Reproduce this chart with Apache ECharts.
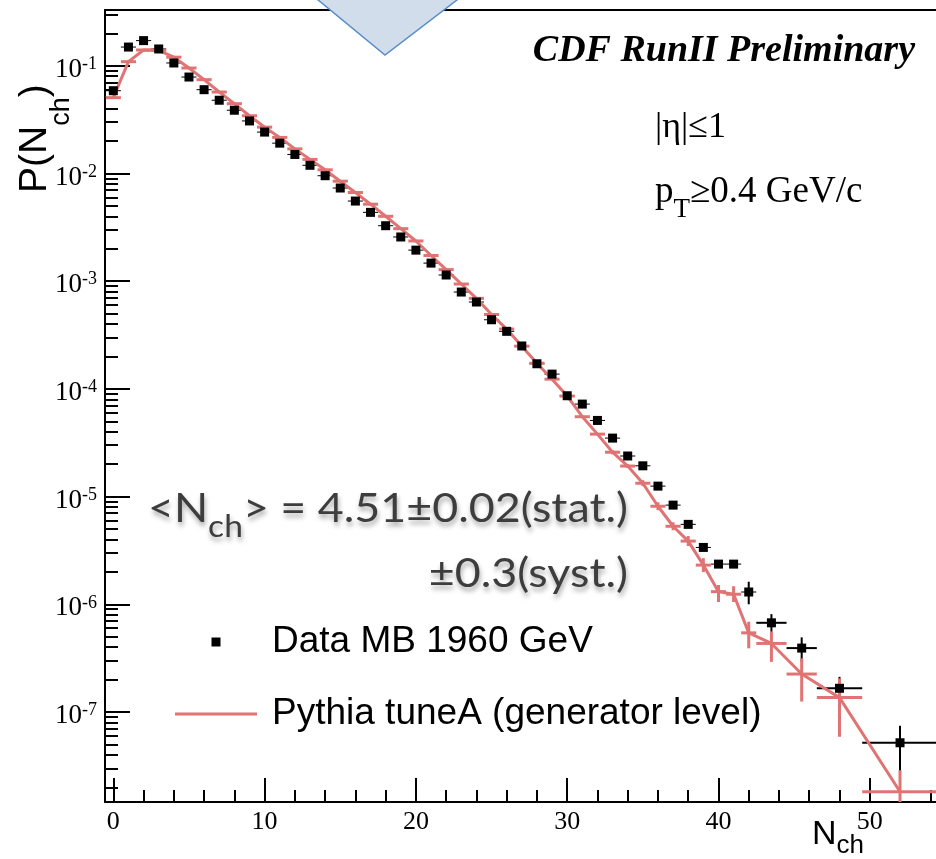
<!DOCTYPE html>
<html>
<head>
<meta charset="utf-8">
<script src="https://cdn.jsdelivr.net/npm/echarts@6.0.0/dist/echarts.min.js"></script>
<style>
html,body{margin:0;padding:0;background:#ffffff;}
#chart{width:936px;height:859px;}
</style>
</head>
<body>
<div id="chart"></div>
<script>
// ---------------- data ----------------
const nCh = [0,1,2,3,4,5,6,7,8,9,10,11,12,13,14,15,16,17,18,19,20,21,22,23,24,25,26,27,28,29,30,31,32,33,34,35,36,37,38,39,40,41,42,43.5,45.5,48,52];
const binEdges = [-0.5,0.5,1.5,2.5,3.5,4.5,5.5,6.5,7.5,8.5,9.5,10.5,11.5,12.5,13.5,14.5,15.5,16.5,17.5,18.5,19.5,20.5,21.5,22.5,23.5,24.5,25.5,26.5,27.5,28.5,29.5,30.5,31.5,32.5,33.5,34.5,35.5,36.5,37.5,38.5,39.5,40.5,41.5,42.5,44.5,46.5,49.5,54.5];
const dataMB = [0.0586,0.149,0.171,0.143,0.106,0.0785,0.0599,0.0478,0.0386,0.0307,0.0242,0.0191,0.0150,0.0119,0.00952,0.00732,0.00554,0.00435,0.00327,0.00257,0.00194,0.00147,0.00114,0.000792,0.000640,0.000438,0.000342,0.000250,0.000171,0.000137,8.63e-5,7.22e-5,5.09e-5,3.49e-5,2.38e-5,1.93e-5,1.25e-5,8.33e-6,5.52e-6,3.37e-6,2.36e-6,2.36e-6,1.30e-6,6.73e-7,3.92e-7,1.66e-7,5.18e-8];
const pythiaA = [0.0505,0.109,0.140,0.139,0.120,0.0952,0.0742,0.0570,0.0444,0.0343,0.0269,0.0216,0.0169,0.0135,0.0108,0.00847,0.00665,0.00518,0.00400,0.00307,0.00236,0.00173,0.00128,0.000940,0.000692,0.000490,0.000359,0.000249,0.000173,0.000123,8.57e-5,5.51e-5,3.80e-5,2.58e-5,1.92e-5,1.33e-5,8.13e-6,5.30e-6,3.86e-6,2.31e-6,1.31e-6,1.24e-6,5.43e-7,4.33e-7,2.25e-7,1.36e-7,1.82e-8];
const dataErrN = [42,43.5,45.5,48,52];
const dataErrLow = [1.00e-6,5.56e-7,2.92e-7,1.20e-7,1e-9];
const dataErrHigh = [1.62e-6,8.1e-7,4.93e-7,2.12e-7,7.45e-8];
const pythiaErrN = [33,34,35,36,37,38,39,40,41,42,43.5,45.5,48,52];
const pythiaErrLow = [2.47e-5,1.84e-5,1.25e-5,7.47e-6,4.87e-6,3.47e-6,1.99e-6,1.05e-6,1.05e-6,3.90e-7,2.92e-7,1.25e-7,5.89e-8,1e-9];
const pythiaErrHigh = [2.69e-5,2.00e-5,1.42e-5,8.85e-6,5.77e-6,4.30e-6,2.68e-6,1.51e-6,1.47e-6,6.89e-7,5.56e-7,3.15e-7,2.05e-7,2.88e-8];
const xTickLabels = [0,10,20,30,40,50];
const xMinorTicks = [2,4,6,8,12,14,16,18,22,24,26,28,32,34,36,38,42,44,46,48,52,54];
const yTickLabels = [1e-7,1e-6,1e-5,1e-4,1e-3,1e-2,1e-1];
const seriesNames = ['Data MB 1960 GeV','Pythia tuneA (generator level)'];

// ---------------- axis ranges / styling ----------------
const X_MIN = -0.55, X_MAX = 55.7;
const Y_MIN = 1.46e-8, Y_MAX = 0.329;
const RED = '#e07373';
const SERIF = 'Liberation Serif';
const SANS = 'Liberation Sans';
const SHADOW = {textShadowColor: 'rgba(0,0,0,0.35)', textShadowBlur: 5, textShadowOffsetX: 1, textShadowOffsetY: 4};

const yMinorTicks = [];
for (let e = -8; e <= -1; e++) {
  for (let k = 2; k <= 9; k++) {
    const v = k * Math.pow(10, e);
    if (v > Y_MIN && v < Y_MAX) yMinorTicks.push(v);
  }
}

function clampPt(p, cs) {
  return [Math.min(Math.max(p[0], cs.x), cs.x + cs.width),
          Math.min(Math.max(p[1], cs.y), cs.y + cs.height)];
}
function hBar(color, widthNarrow, widthWide) {
  return function (params, api) {
    const cs = params.coordSys;
    const x0 = api.value(0), x1 = api.value(1);
    const a = clampPt(api.coord([x0, api.value(2)]), cs);
    const b = clampPt(api.coord([x1, api.value(2)]), cs);
    return {type: 'line', shape: {x1: a[0], y1: a[1], x2: b[0], y2: b[1]},
            style: {stroke: color, lineWidth: (x1 - x0) > 1.01 ? widthWide : widthNarrow}};
  };
}
function vBar(color, width) {
  return function (params, api) {
    const cs = params.coordSys;
    const a = clampPt(api.coord([api.value(0), api.value(1)]), cs);
    const b = clampPt(api.coord([api.value(0), api.value(2)]), cs);
    return {type: 'line', shape: {x1: a[0], y1: a[1], x2: b[0], y2: b[1]},
            style: {stroke: color, lineWidth: width}};
  };
}

const chart = echarts.init(document.getElementById('chart'), null, {renderer: 'canvas'});

const option = {
  animation: false,
  backgroundColor: '#ffffff',
  grid: {left: 105, top: 10, right: -20, bottom: 57, containLabel: false, outerBoundsMode: 'none'},
  xAxis: [
    {type: 'value', min: X_MIN, max: X_MAX, position: 'bottom',
     axisLine: {show: true, onZero: false, lineStyle: {color: '#000', width: 2}},
     axisTick: {show: true, inside: true, length: 24, lineStyle: {color: '#000', width: 2}, customValues: xTickLabels},
     axisLabel: {show: true, customValues: xTickLabels, margin: 7, fontFamily: SERIF, fontSize: 26, color: '#000'},
     splitLine: {show: false}},
    {type: 'value', min: X_MIN, max: X_MAX, position: 'bottom',
     axisLine: {show: false, onZero: false},
     axisTick: {show: true, inside: true, length: 12, lineStyle: {color: '#000', width: 2}, customValues: xMinorTicks},
     axisLabel: {show: false}, splitLine: {show: false}},
    {type: 'value', min: X_MIN, max: X_MAX, position: 'top',
     axisLine: {show: true, onZero: false, lineStyle: {color: '#000', width: 2}},
     axisTick: {show: false}, axisLabel: {show: false}, splitLine: {show: false}}
  ],
  yAxis: [
    {type: 'log', min: Y_MIN, max: Y_MAX, position: 'left',
     axisLine: {show: true, onZero: false, lineStyle: {color: '#000', width: 2}},
     axisTick: {show: true, inside: true, length: 25, lineStyle: {color: '#000', width: 2}, customValues: yTickLabels},
     axisLabel: {show: true, customValues: yTickLabels, margin: 8,
       formatter: function (v) { return '{b|10}{s|' + Math.round(Math.log10(v)) + '}'; },
       rich: {
         b: {fontFamily: SERIF, fontSize: 27, lineHeight: 27, padding: [4, 0, 0, 0], verticalAlign: 'top', color: '#000'},
         s: {fontFamily: SERIF, fontSize: 18, lineHeight: 18, padding: [3, 0, 0, 0], verticalAlign: 'top', color: '#000'}
       }},
     splitLine: {show: false}},
    {type: 'log', min: Y_MIN, max: Y_MAX, position: 'left',
     axisLine: {show: false, onZero: false},
     axisTick: {show: true, inside: true, length: 13, lineStyle: {color: '#000', width: 2}, customValues: yMinorTicks},
     axisLabel: {show: false}, splitLine: {show: false}}
  ],
  legend: {
    left: 175, top: 622, orient: 'vertical', padding: 0, itemGap: 32,
    itemWidth: 92, itemHeight: 14, selectedMode: false,
    textStyle: {fontFamily: SANS, fontSize: 37, color: '#000', lineHeight: 40},
    data: [
      {name: seriesNames[0], icon: 'path://M0,0M92,0M92,14M0,14M36.5,2.5h9v9h-9z', itemStyle: {color: '#000', opacity: 1}},
      {name: seriesNames[1], icon: 'path://M0,0M92,0M92,14M0,14M0,5.5h82v3h-82z', itemStyle: {color: RED, opacity: 1}}
    ]
  },
  series: [
    {name: 'dataHBar', type: 'custom', silent: true, z: 2,
     renderItem: hBar('#000', 1, 2), encode: {x: [0, 1], y: 2},
     data: nCh.map((n, i) => [binEdges[i], binEdges[i + 1], dataMB[i]])},
    {name: 'dataVBar', type: 'custom', silent: true, z: 2,
     renderItem: vBar('#000', 2), encode: {x: 0, y: [1, 2]},
     data: dataErrN.map((n, i) => [n, dataErrLow[i], dataErrHigh[i]])},
    {name: seriesNames[1], type: 'line', z: 3, symbol: 'none', silent: true,
     lineStyle: {color: RED, width: 3}, itemStyle: {color: RED},
     data: nCh.map((n, i) => [n, pythiaA[i]])},
    {name: 'pyHBar', type: 'custom', silent: true, z: 3,
     renderItem: hBar(RED, 3, 3), encode: {x: [0, 1], y: 2},
     data: nCh.map((n, i) => [binEdges[i], binEdges[i + 1], pythiaA[i]])},
    {name: 'pyVBar', type: 'custom', silent: true, z: 3,
     renderItem: vBar(RED, 3), encode: {x: 0, y: [1, 2]},
     data: pythiaErrN.map((n, i) => [n, pythiaErrLow[i], pythiaErrHigh[i]])},
    {name: seriesNames[0], type: 'scatter', z: 4, silent: true,
     symbol: 'rect', symbolSize: 9, itemStyle: {color: '#000', opacity: 1},
     data: nCh.map((n, i) => [n, dataMB[i]])}
  ],
  graphic: [
    {type: 'polygon', z: 100, shape: {points: [[306, -10], [470, -10], [385, 55]]},
     style: {fill: '#d2ddeb', stroke: '#5b8ec8', lineWidth: 1.5}},
    {type: 'text', z: 50, x: 915, y: 51.5,
     style: {text: 'CDF RunII Preliminary', font: 'italic bold 38px "Liberation Serif"', fill: '#000', align: 'right', verticalAlign: 'middle'}},
    {type: 'text', z: 50, x: 655, y: 128,
     style: {text: '|η|≤1', font: '36px "Liberation Serif"', fill: '#000', align: 'left', verticalAlign: 'middle'}},
    {type: 'text', z: 50, x: 655, y: 174,
     style: {text: '{a|p}{b|T}{a|≥0.4 GeV/c}', align: 'left', verticalAlign: 'top',
       rich: {
         a: {fontFamily: SERIF, fontSize: 37, lineHeight: 40, verticalAlign: 'top', fill: '#000'},
         b: {fontFamily: SERIF, fontSize: 27, lineHeight: 28, padding: [22, 0, 0, 0], verticalAlign: 'top', fill: '#000'}
       }}},
    {type: 'text', z: 50, x: 628, y: 489, scaleX: 1.12,
     style: Object.assign({text: '{a|<N}{s|ch}{a|> = 4.51±0.02(stat.)}', align: 'right', verticalAlign: 'top',
       rich: {
         a: Object.assign({fontFamily: 'Lato', fontSize: 40, lineHeight: 44, verticalAlign: 'top', fill: '#3d3d3d'}, SHADOW),
         s: Object.assign({fontFamily: 'Lato', fontSize: 30, lineHeight: 30, padding: [23, 0, 0, 0], verticalAlign: 'top', fill: '#3d3d3d'}, SHADOW)
       }}, SHADOW)},
    {type: 'text', z: 50, x: 628, y: 574, scaleX: 1.12,
     style: Object.assign({text: '±0.3(syst.)', font: '40px Lato', fill: '#3d3d3d', align: 'right', verticalAlign: 'middle'}, SHADOW)},
    {type: 'text', z: 50, x: 812, y: 818,
     style: {text: '{a|N}{s|ch}', align: 'left', verticalAlign: 'top',
       rich: {
         a: {fontFamily: SANS, fontSize: 34, lineHeight: 34, verticalAlign: 'top', fill: '#000'},
         s: {fontFamily: SANS, fontSize: 26, lineHeight: 26, padding: [15, 0, 0, 0], verticalAlign: 'top', fill: '#000'}
       }}},
    {type: 'text', z: 50, x: 16, y: 193, rotation: Math.PI / 2,
     style: {text: '{a|P(N}{s|ch}{a|)}', align: 'left', verticalAlign: 'top',
       rich: {
         a: {fontFamily: SANS, fontSize: 39, lineHeight: 39, verticalAlign: 'top', fill: '#000'},
         s: {fontFamily: SANS, fontSize: 27, lineHeight: 27, padding: [32, 0, 0, 0], verticalAlign: 'top', fill: '#000'}
       }}}
  ]
};
chart.setOption(option);
</script>
</body>
</html>
